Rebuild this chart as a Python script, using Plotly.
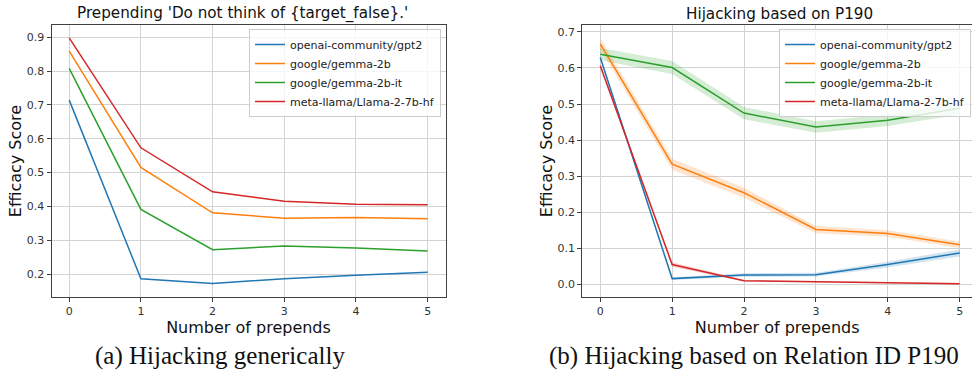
import plotly.graph_objects as go

# ---------------- data ----------------
x_prepends = [0, 1, 2, 3, 4, 5]
models = ["openai-community/gpt2", "google/gemma-2b", "google/gemma-2b-it", "meta-llama/Llama-2-7b-hf"]
colors = ["#1f77b4", "#ff7f0e", "#2ca02c", "#d62728"]
band_colors = ["rgba(31,119,180,0.2)", "rgba(255,127,14,0.2)", "rgba(44,160,44,0.2)", "rgba(214,39,40,0.2)"]

# (a) Hijacking generically
generic_gpt2 = [0.714, 0.186, 0.172, 0.186, 0.196, 0.205]
generic_gemma = [0.859, 0.515, 0.381, 0.365, 0.367, 0.363]
generic_gemma_it = [0.808, 0.391, 0.272, 0.283, 0.277, 0.268]
generic_llama = [0.898, 0.573, 0.443, 0.415, 0.406, 0.405]

# (b) Hijacking based on Relation ID P190
p190_gpt2 = [0.629, 0.016, 0.026, 0.027, 0.055, 0.087]
p190_gemma = [0.667, 0.333, 0.254, 0.152, 0.141, 0.110]
p190_gemma_it = [0.638, 0.601, 0.475, 0.436, 0.455, 0.488]
p190_llama = [0.606, 0.055, 0.010, 0.008, 0.005, 0.002]

# half-widths of the shaded confidence bands in (b)
p190_gpt2_err = [0.006, 0.004, 0.005, 0.005, 0.008, 0.010]
p190_gemma_err = [0.015, 0.015, 0.014, 0.010, 0.009, 0.009]
p190_gemma_it_err = [0.017, 0.018, 0.017, 0.016, 0.016, 0.017]
p190_llama_err = [0.006, 0.006, 0.002, 0.002, 0.002, 0.002]

left_title = "Prepending 'Do not think of {target_false}.'"
right_title = "Hijacking based on P190"
x_label = "Number of prepends"
y_label = "Efficacy Score"
caption_a = "(a) Hijacking generically"
caption_b = "(b) Hijacking based on Relation ID P190"

# ---------------- figure ----------------
W, H = 972, 381
fig = go.Figure()

generic = [generic_gpt2, generic_gemma, generic_gemma_it, generic_llama]
p190 = [p190_gpt2, p190_gemma, p190_gemma_it, p190_llama]
p190_err = [p190_gpt2_err, p190_gemma_err, p190_gemma_it_err, p190_llama_err]

for name, c, ys in zip(models, colors, generic):
    fig.add_trace(go.Scatter(x=x_prepends, y=ys, mode="lines", name=name,
                             line=dict(color=c, width=1.5),
                             xaxis="x", yaxis="y", legend="legend"))

# shaded bands first, then the mean lines
for name, bc, ys, es in zip(models, band_colors, p190, p190_err):
    upper = [v + e for v, e in zip(ys, es)]
    lower = [v - e for v, e in zip(ys, es)]
    fig.add_trace(go.Scatter(x=x_prepends + x_prepends[::-1], y=upper + lower[::-1],
                             mode="lines", fill="toself", fillcolor=bc,
                             line=dict(width=0), hoverinfo="skip", showlegend=False,
                             xaxis="x2", yaxis="y2"))
for name, c, ys in zip(models, colors, p190):
    fig.add_trace(go.Scatter(x=x_prepends, y=ys, mode="lines", name=name,
                             line=dict(color=c, width=1.5),
                             xaxis="x2", yaxis="y2", legend="legend2"))

FR = "#404040"
GR = "#d3d3d3"
tickfont = dict(family="DejaVu Sans", size=11, color="#333333")
titlefont = dict(family="DejaVu Sans", size=16, color="#111111")

def xax(domain, rng, anchor, mirror):
    return dict(domain=domain, range=rng, anchor=anchor, tickmode="array",
                tickvals=x_prepends, ticktext=[str(v) for v in x_prepends],
                showgrid=True, gridcolor=GR, gridwidth=1, zeroline=False,
                showline=True, linecolor=FR, linewidth=1, mirror=mirror,
                ticks="outside", ticklen=4, tickcolor=FR, tickfont=tickfont,
                title=dict(text=x_label, font=titlefont, standoff=0))

def yax(domain, rng, anchor, mirror, standoff):
    return dict(domain=domain, range=rng, anchor=anchor, dtick=0.1, tick0=0,
                tickformat=".1f",
                showgrid=True, gridcolor=GR, gridwidth=1, zeroline=False,
                showline=True, linecolor=FR, linewidth=1, mirror=mirror,
                ticks="outside", ticklen=4, tickcolor=FR, tickfont=tickfont,
                title=dict(text=y_label, font=titlefont, standoff=standoff))

legend_style = dict(xanchor="left", yanchor="top",
                    bgcolor="rgba(255,255,255,0.8)", bordercolor="#cccccc", borderwidth=1,
                    font=dict(family="DejaVu Sans", size=11, color="#222222"),
                    tracegroupgap=0, itemwidth=30)

ydom = [(H - 297) / H, (H - 25) / H]
fig.update_layout(
    width=W, height=H,
    margin=dict(l=0, r=0, t=0, b=0, autoexpand=False),
    paper_bgcolor="white", plot_bgcolor="white",
    font=dict(family="DejaVu Sans"),
    xaxis=xax([51.5 / W, 445.5 / W], [-0.247, 5.249], "y", True),
    yaxis=yax(ydom, [0.132, 0.936], "x", True, 1),
    xaxis2=xax([582.3 / W, 1.0], [-0.25, 5.172], "y2", True),
    yaxis2=yax(ydom, [-0.035, 0.719], "x2", False, 0),
    legend=dict(x=249 / W, y=1 - 29 / H, **legend_style),
    legend2=dict(x=779 / W, y=1 - 29 / H, **legend_style),
    annotations=[
        dict(text=left_title, x=242 / W, y=1 - 14 / H, xref="paper", yref="paper",
             xanchor="center", yanchor="middle", showarrow=False,
             font=dict(family="DejaVu Sans", size=15.2, color="#111111")),
        dict(text=right_title, x=779 / W, y=1 - 14 / H, xref="paper", yref="paper",
             xanchor="center", yanchor="middle", showarrow=False,
             font=dict(family="DejaVu Sans", size=15.2, color="#111111")),
        dict(text=caption_a, x=220 / W, y=1 - 356 / H, xref="paper", yref="paper",
             xanchor="center", yanchor="middle", showarrow=False,
             font=dict(family="Liberation Serif", size=25, color="#111111")),
        dict(text=caption_b, x=754 / W, y=1 - 356 / H, xref="paper", yref="paper",
             xanchor="center", yanchor="middle", showarrow=False,
             font=dict(family="Liberation Serif", size=25, color="#111111")),
    ],
)

fig.write_html("out.html", config={"displayModeBar": False},
               post_script="document.body.style.margin='0';document.body.style.overflow='hidden';")
